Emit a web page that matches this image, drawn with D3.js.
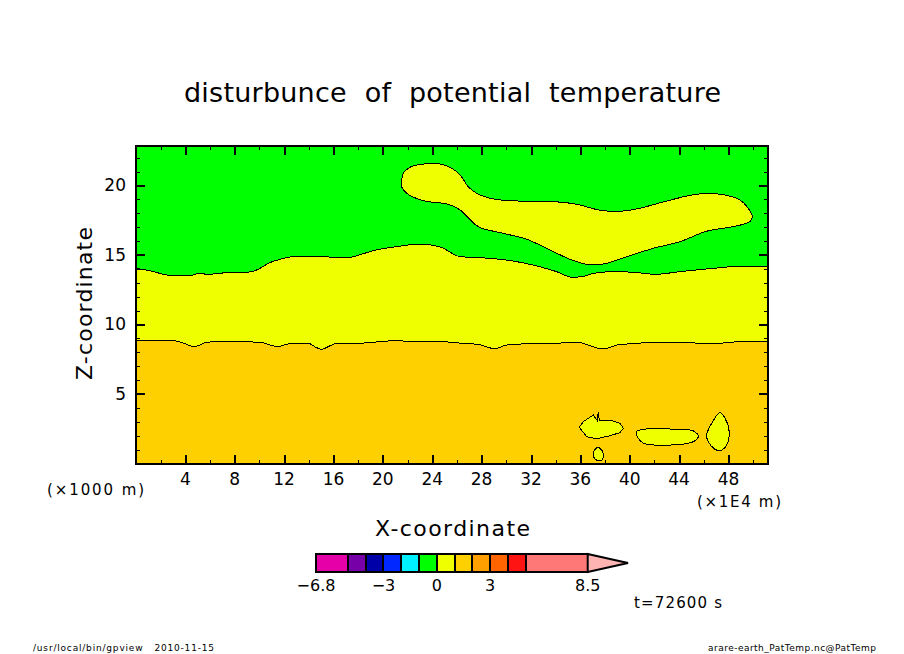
<!DOCTYPE html>
<html><head><meta charset="utf-8">
<script src="https://cdn.jsdelivr.net/npm/d3@7"></script>
<style>
html,body{margin:0;padding:0;background:#fff}
svg{display:block}
text{font-family:"DejaVu Sans",sans-serif;fill:#000}
</style></head><body>
<svg id="c" width="904" height="654"></svg>
<script>
const titleText = "disturbunce of potential temperature";
const xTitle = "X-coordinate", zTitle = "Z-coordinate";
const xMajor = [0,4,8,12,16,20,24,28,32,36,40,44,48];
const xMinor = [2,6,10,14,18,22,26,30,34,38,42,46,50];
const zMajor = [5,10,15,20];
const zMinor = [1,2,3,4,6,7,8,9,11,12,13,14,16,17,18,19,21,22];
const xDomain = [0,51.2], zDomain = [0,22.84];

// contour 0/1 boundary (yellow over orange)
const lowerX = [0,2.62,3.40,4.21,4.64,5.02,5.59,6.81,10.05,10.86,11.43,11.91,12.62,13.94,14.64,15.05,15.56,16.26,18.80,19.91,21.39,22.33,23.01,25.30,26.39,27.87,28.68,29.22,29.89,30.70,32.59,35.97,36.78,37.45,37.91,38.40,39.07,40.29,41.91,46.91,47.98,48.66,51.2];
const lowerZ = [8.86,8.86,8.79,8.53,8.40,8.47,8.69,8.79,8.72,8.53,8.40,8.50,8.65,8.65,8.33,8.22,8.40,8.65,8.67,8.79,8.83,8.74,8.79,8.74,8.65,8.55,8.31,8.29,8.50,8.58,8.62,8.69,8.47,8.29,8.24,8.36,8.55,8.62,8.72,8.65,8.69,8.76,8.81];
// green over yellow
const upperX = [0,1.13,2.75,4.64,5.02,5.83,7.35,9.24,10.05,10.72,11.67,12.74,15.45,15.72,17.34,18.15,19.22,21.12,22.46,23.55,24.76,26.25,27.87,30.54,32.46,34.08,35.30,36.11,37.05,38.64,40.29,42.04,44.07,46.77,49.07,51.2];
const upperZ = [14.04,13.87,13.54,13.56,13.68,13.61,13.73,13.78,14.04,14.40,14.69,14.88,14.91,14.83,14.83,15.02,15.31,15.60,15.74,15.74,15.53,14.88,14.81,14.57,14.21,13.80,13.40,13.44,13.68,13.80,13.76,13.61,13.80,14.04,14.19,14.14];
// closed yellow islands
const bigBlobX = [21.52,21.65,22.20,23.14,24.76,25.57,26.25,26.92,27.60,28.95,31.65,33.94,35.70,37.59,39.07,40.56,42.99,45.42,47.31,48.93,49.60,49.93,49.74,48.39,46.23,44.07,41.91,39.75,37.86,36.51,35.16,33.27,31.65,29.76,27.73,26.25,25.30,23.27,21.93,21.52];
const bigBlobZ = [20.27,20.88,21.31,21.53,21.53,21.24,20.76,19.91,19.44,19.03,18.86,18.83,18.65,18.22,18.14,18.31,18.88,19.37,19.37,18.96,18.36,17.76,17.40,17.04,16.71,15.96,15.48,14.88,14.35,14.33,14.69,15.48,16.13,16.56,17.04,18.24,18.65,18.91,19.44,19.91];
const spikeBlobX = [35.91,36.24,37.05,37.37,37.45,37.53,38.40,39.21,39.48,39.21,38.40,37.32,36.51];
const spikeBlobZ = [2.60,3.01,3.49,3.08,3.73,3.08,3.13,2.89,2.53,2.22,2.00,1.78,1.93];
const longBlobX = [40.56,41.10,43.80,45.15,45.55,45.15,43.80,41.10,40.69];
const longBlobZ = [2.29,2.46,2.46,2.34,1.93,1.57,1.35,1.47,1.81];
const dropBlobX = [47.31,47.72,48.06,47.85,47.31,46.91,46.36,46.23,46.64];
const dropBlobZ = [3.68,3.25,2.29,1.33,0.92,1.02,1.57,2.05,2.89];
const tinyBlobX = [37.40,37.81,37.86,37.65,37.18,37.05];
const tinyBlobZ = [1.17,0.85,0.45,0.20,0.32,0.73];

const levels = [-6.8,-5,-4,-3,-2,-1,0,1,2,3,4,5,8.5];
const levelColors = ["#e600a8","#7800a8","#0000a8","#0028ff","#00f0ff","#00ff00","#f0ff00","#ffd000","#ff9f00","#ff6400","#ff1414","#ff7878"];
const tipColor = "#ffb4b4";
const levelLabels = [-6.8,-3,0,3,8.5];
const timeText = "t=72600 s";
const xUnit = "(×1E4 m)", zUnit = "(×1000 m)";
const footLeft = "/usr/local/bin/gpview   2010-11-15";
const footRight = "arare-earth_PatTemp.nc@PatTemp";

const svg = d3.select("#c");
const L=136,R=768,T=146,B=463.5;
const x = d3.scaleLinear().domain(xDomain).range([L,R]);
const y = d3.scaleLinear().domain(zDomain).range([B,T]);
const green="#00ff00", yellow="#f0ff00", orange="#ffd000";

const pts=(a,b)=>a.map((v,i)=>[v,b[i]]);
const g = svg.append("g").attr("shape-rendering","crispEdges");
g.append("rect").attr("x",L).attr("y",T).attr("width",R-L).attr("height",B-T).attr("fill",green);

const band = d3.area().x(d=>x(d[0])).y0(y(0)).y1(d=>y(d[1])).curve(d3.curveMonotoneX);
const edge = d3.line().x(d=>x(d[0])).y(d=>y(d[1])).curve(d3.curveMonotoneX);
[[upperX,upperZ,yellow],[lowerX,lowerZ,orange]].forEach(([a,b,c])=>{
  const p=pts(a,b);
  g.append("path").attr("d",band(p)).attr("fill",c);
  g.append("path").attr("d",edge(p)).attr("fill","none").attr("stroke","#000").attr("stroke-width",1);
});
const smooth = d3.line().x(d=>x(d[0])).y(d=>y(d[1])).curve(d3.curveCatmullRomClosed.alpha(0.5));
const sharp = d3.line().x(d=>x(d[0])).y(d=>y(d[1])).curve(d3.curveLinearClosed);
[[bigBlobX,bigBlobZ,smooth],[spikeBlobX,spikeBlobZ,sharp],[longBlobX,longBlobZ,smooth],[dropBlobX,dropBlobZ,smooth],[tinyBlobX,tinyBlobZ,smooth]].forEach(([a,b,ln])=>{
  g.append("path").attr("d",ln(pts(a,b))).attr("fill",yellow).attr("stroke","#000").attr("stroke-width",1);
});

// axes: four sides, ticks pointing inward
function axis(gen,tx,ty,vals,size,w){
  const a=svg.append("g").attr("transform",`translate(${tx},${ty})`).attr("shape-rendering","crispEdges")
    .call(gen.tickValues(vals).tickSize(size).tickSizeOuter(0).tickFormat(""));
  a.select(".domain").remove();
  a.selectAll("line").attr("stroke","#000").attr("stroke-width",w);
}
const MJ=-9, MN=-4;
axis(d3.axisBottom(x),0,B,xMajor.filter(v=>v>0),MJ,2);
axis(d3.axisBottom(x),0,B,xMinor,MN,1);
axis(d3.axisTop(x),0,T,xMajor.filter(v=>v>0),MJ,2);
axis(d3.axisTop(x),0,T,xMinor,MN,1);
axis(d3.axisLeft(y),L,0,zMajor,MJ,2);
axis(d3.axisLeft(y),L,0,zMinor,MN,1);
axis(d3.axisRight(y),R,0,zMajor,MJ,2);
axis(d3.axisRight(y),R,0,zMinor,MN,1);
svg.append("rect").attr("x",L).attr("y",T).attr("width",R-L).attr("height",B-T)
  .attr("fill","none").attr("stroke","#000").attr("stroke-width",2).attr("shape-rendering","crispEdges");

function label(t,px,py,size,anchor,len){
  const e=svg.append("text").attr("x",px).attr("y",py).attr("font-size",size).attr("text-anchor",anchor||"start")
    .attr("xml:space","preserve").style("white-space","pre").text(t);
  if(len) e.attr("textLength",len).attr("lengthAdjust","spacing");
  return e;
}
xMajor.filter(v=>v>0).forEach(v=>label(String(v),x(v),485,17,"middle"));
zMajor.forEach(v=>label(String(v),126,y(v)+6,17,"end"));
label(titleText,184,102,27,"start",537).style("word-spacing","9px");
label(xTitle,375,536,22,"start",155);
svg.append("text").attr("transform","translate(92,380) rotate(-90)").attr("font-size",22)
  .attr("textLength",153).attr("lengthAdjust","spacing").text(zTitle);
label(zUnit,47,495,15,"start",97);
label(xUnit,697,507,15,"start",84);
label(timeText,634,608,15,"start",88);
label(footLeft,33,651,9,"start",181);
label(footRight,708,651,9,"start",168);

// colour bar
const cb = d3.scaleLinear().domain([levels[0],levels[levels.length-1]]).range([316,587.7]);
const cT=554,cB=572,cTip=628;
const cg=svg.append("g").attr("shape-rendering","crispEdges");
levelColors.forEach((c,i)=>{
  cg.append("rect").attr("x",cb(levels[i])).attr("y",cT).attr("width",cb(levels[i+1])-cb(levels[i])).attr("height",cB-cT)
    .attr("fill",c).attr("stroke","#000").attr("stroke-width",2);
});
svg.append("path").attr("d",d3.line()([[cb(8.5),cT],[cTip,(cT+cB)/2],[cb(8.5),cB]])+"Z")
  .attr("fill",tipColor).attr("stroke","#000").attr("stroke-width",2).attr("stroke-linejoin","miter");
levelLabels.forEach(v=>label(String(v).replace("-","−"),cb(v),591,16,"middle"));
</script>
</body></html>
